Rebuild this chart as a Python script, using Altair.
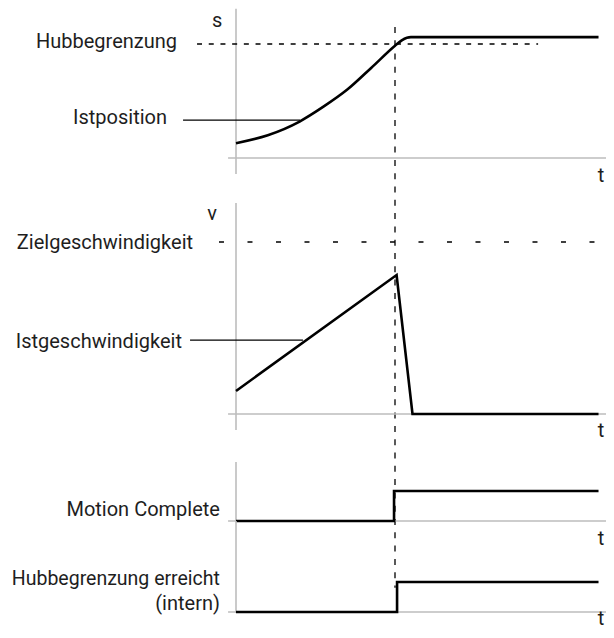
import altair as alt
import pandas as pd

# ---------------- data (time in arbitrary units, event at t = 10) ----------------
T_EVENT = 10.0
T_END = 22.8

# Istposition (s)
POS_T = [0, 2, 4, 5.5, 7, 8.5, 10, 10.4, 10.75, 11.0, T_END]
POS_S = [13, 20, 32, 45, 60, 79, 98.5, 103, 105.5, 106, 106]
S_LIMIT = 100          # Hubbegrenzung

# Istgeschwindigkeit (v)
VEL_T = [0, 10.1, 11.1, T_END]
VEL_V = [13.4, 80.8, 0, 0]
V_TARGET = 100         # Zielgeschwindigkeit

# digital signals
MC_T = [0, 9.94, 9.94, T_END]
MC_V = [0, 0, 1, 1]            # Motion Complete
HE_T = [0, 10.13, 10.13, T_END]
HE_V = [0, 0, 1, 1]            # Hubbegrenzung erreicht (intern)

# ---------------- layout / styles ----------------
FONT = "Roboto"
FS = 20
TXT = "#1e1e1e"
AXIS_C = "#bdbdbd"

X_SCALE = alt.Scale(domain=[0, 10], range=[228, 387], nice=False, zero=False)
Y1 = alt.Scale(domain=[0, 100], range=[150, 36], nice=False, zero=False)
Y2 = alt.Scale(domain=[0, 100], range=[406, 234], nice=False, zero=False)
Y3 = alt.Scale(domain=[0, 1], range=[513, 483], nice=False, zero=False)
Y4 = alt.Scale(domain=[0, 1], range=[604, 574], nice=False, zero=False)


def X(field="t"):
    return alt.X(f"{field}:Q", scale=X_SCALE, axis=None)


def Yc(ysc, field="y"):
    return alt.Y(f"{field}:Q", scale=ysc, axis=None)


def curve(ts, vs, ysc, interp="linear"):
    df = pd.DataFrame({"t": ts, "y": vs, "i": list(range(len(ts)))})
    return alt.Chart(df).mark_line(
        color="black", strokeWidth=2.6, interpolate=interp, strokeJoin="miter"
    ).encode(x=X(), y=Yc(ysc), order="i:Q")


def hrule(t1, t2, yv, ysc, color="black", width=1.2, dash=None):
    df = pd.DataFrame({"t": [t1], "t2": [t2], "y": [yv]})
    kw = dict(color=color, strokeWidth=width)
    if dash:
        kw["strokeDash"] = dash
    return alt.Chart(df).mark_rule(**kw).encode(
        x=X(), x2="t2:Q", y=Yc(ysc)
    )


def vrule(t, y1, y2, ysc, color="black", width=1.2, dash=None):
    df = pd.DataFrame({"t": [t], "y": [y1], "y2": [y2]})
    kw = dict(color=color, strokeWidth=width)
    if dash:
        kw["strokeDash"] = dash
    return alt.Chart(df).mark_rule(**kw).encode(
        x=X(), y=Yc(ysc), y2="y2:Q"
    )


def label(text, t, yv, ysc, align="right", size=FS):
    df = pd.DataFrame({"t": [t], "y": [yv], "label": [text]})
    return alt.Chart(df).mark_text(
        align=align, baseline="alphabetic", font=FONT, fontSize=size, color=TXT
    ).encode(x=X(), y=Yc(ysc), text="label:N")


T_LABEL = 22.96


def axes(ysc, ytop, ybot, tlabel_y):
    return [
        vrule(0, ytop, ybot, ysc, color=AXIS_C, width=1.6),
        hrule(-0.5, 23.8, 0, ysc, color=AXIS_C, width=1.6),
        label("t", T_LABEL, tlabel_y, ysc, align="center"),
    ]


# ---------------- panel 1: position ----------------
p1 = alt.layer(
    *axes(Y1, 131, -14, -21),
    hrule(-2.45, 19.0, S_LIMIT, Y1, width=1.3, dash=[5, 6.7]),
    vrule(T_EVENT, 115, -377, Y1, width=1.3, dash=[6, 7.3]),
    label("s", -1.19, 114.9, Y1, align="center"),
    label("Hubbegrenzung", -3.71, 96.5, Y1),
    label("Istposition", -4.34, 29.8, Y1),
    hrule(-3.33, 4.03, 33.3, Y1, width=1.2),
    curve(POS_T, POS_S, Y1, interp="monotone"),
)

# ---------------- panel 2: velocity ----------------
p2 = alt.layer(
    *axes(Y2, 122.7, -9.3, -13.4),
    hrule(-1.07, 22.7, V_TARGET, Y2, width=1.3, dash=[5, 23.5]),
    label("v", -1.51, 112.8, Y2, align="center"),
    label("Zielgeschwindigkeit", -2.70, 95.9, Y2),
    label("Istgeschwindigkeit", -3.40, 38.4, Y2),
    hrule(-2.89, 4.21, 43, Y2, width=1.2),
    curve(VEL_T, VEL_V, Y2),
)

# ---------------- panel 3: Motion Complete ----------------
p3 = alt.layer(
    *axes(Y3, 1.97, 0, -0.8),
    label("Motion Complete", -1.01, 0.167, Y3),
    curve(MC_T, MC_V, Y3),
)

# ---------------- panel 4: Hubbegrenzung erreicht ----------------
p4 = alt.layer(
    *axes(Y4, 3.03, -0.03, -0.42),
    label("Hubbegrenzung erreicht", -1.01, 0.9, Y4, size=19.5),
    label("(intern)", -1.01, 0.067, Y4),
    curve(HE_T, HE_V, Y4),
)

chart = (
    alt.layer(p1, p2, p3, p4)
    .resolve_scale(y="independent")
    .properties(
        width=598,
        height=622,
        padding=0,
        autosize=alt.AutoSizeParams(type="none"),
        background="white",
    )
    .configure_view(stroke=None)
)

chart.save("out.html", embed_options={"renderer": "svg", "actions": False})
